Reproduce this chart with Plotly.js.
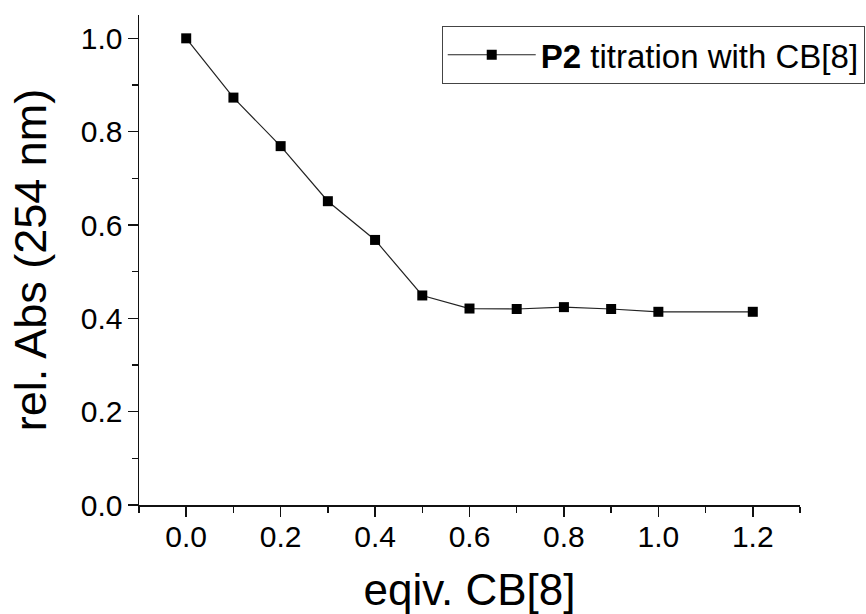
<!DOCTYPE html>
<html>
<head>
<meta charset="utf-8">
<script src="https://cdn.plot.ly/plotly-3.0.1.min.js"></script>
<style>
  html, body { margin: 0; padding: 0; background: #ffffff; }
  #chart { width: 866px; height: 614px; }
</style>
</head>
<body>
<div id="chart"></div>
<script>
// Data
const equivCB8 = [0.0, 0.1, 0.2, 0.3, 0.4, 0.5, 0.6, 0.7, 0.8, 0.9, 1.0, 1.2];
const relAbs254 = [1.000, 0.873, 0.769, 0.651, 0.568, 0.449, 0.421, 0.420, 0.424, 0.420, 0.414, 0.414];
const seriesName = '<b>P2</b> titration with CB[8]';
const xTickVals = [0.0, 0.2, 0.4, 0.6, 0.8, 1.0, 1.2];
const xTickText = ['0.0', '0.2', '0.4', '0.6', '0.8', '1.0', '1.2'];
const yTickVals = [0.0, 0.2, 0.4, 0.6, 0.8, 1.0];
const yTickText = ['0.0', '0.2', '0.4', '0.6', '0.8', '1.0'];
const xTitle = 'eqiv. CB[8]';
const yTitle = 'rel. Abs (254 nm)';

const FONT = 'Liberation Sans, Arial, sans-serif';

const trace = {
  x: equivCB8,
  y: relAbs254,
  type: 'scatter',
  mode: 'lines+markers',
  name: seriesName,
  line: { color: '#222222', width: 1.2 },
  marker: { symbol: 'square', size: 10, color: '#000000' },
  showlegend: true
};

const layout = {
  width: 866,
  height: 614,
  paper_bgcolor: '#ffffff',
  plot_bgcolor: '#ffffff',
  margin: { l: 139, r: 66, t: 15, b: 109, autoexpand: false },
  font: { family: FONT, color: '#000000' },
  showlegend: true,
  legend: {
    x: 0.458, y: 0.978, xanchor: 'left', yanchor: 'top',
    bordercolor: '#444444', borderwidth: 1, bgcolor: '#ffffff',
    font: { family: FONT, size: 33, color: '#000000' },
    itemsizing: 'trace',
    itemwidth: 88
  },
  xaxis: {
    range: [-0.1, 1.3],
    automargin: false,
    tickmode: 'array', tickvals: xTickVals, ticktext: xTickText,
    ticks: 'outside', ticklen: 10, tickwidth: 1.5, tickcolor: '#111111',
    minor: { dtick: 0.1, tick0: 0, ticks: 'outside', ticklen: 6, tickwidth: 1.5, tickcolor: '#111111' },
    showline: true, linecolor: '#111111', linewidth: 1.5,
    showgrid: false, zeroline: false,
    tickfont: { family: FONT, size: 30, color: '#000000' },
    ticklabelstandoff: -6,
    title: { text: xTitle, font: { family: FONT, size: 44, color: '#000000' }, standoff: 23 }
  },
  yaxis: {
    range: [0, 1.05],
    automargin: false,
    tickmode: 'array', tickvals: yTickVals, ticktext: yTickText,
    ticks: 'outside', ticklen: 10, tickwidth: 1.5, tickcolor: '#111111',
    minor: { dtick: 0.1, tick0: 0, ticks: 'outside', ticklen: 6, tickwidth: 1.5, tickcolor: '#111111' },
    showline: true, linecolor: '#111111', linewidth: 1.5,
    showgrid: false, zeroline: false,
    tickfont: { family: FONT, size: 30, color: '#000000' },
    ticklabelstandoff: -1,
    title: { text: yTitle, font: { family: FONT, size: 45, color: '#000000' }, standoff: 20 }
  }
};

Plotly.newPlot('chart', [trace], layout, { displayModeBar: false, staticPlot: true });
</script>
</body>
</html>
